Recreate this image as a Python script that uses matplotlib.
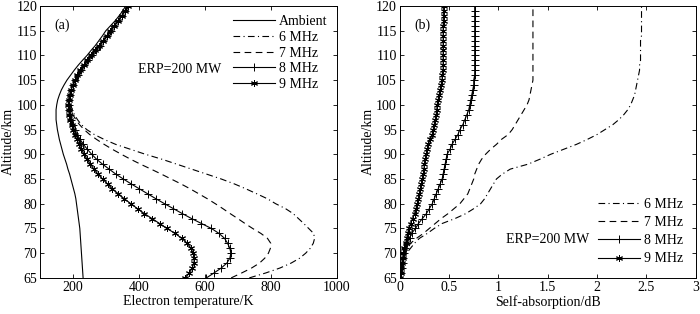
import matplotlib
matplotlib.use('Agg')
import matplotlib.pyplot as plt

plt.rcParams['font.family'] = ['Liberation Serif', 'DejaVu Serif']
plt.rcParams['font.size'] = 10
plt.rcParams['mathtext.fontset'] = 'stix'

# altitude grid (km)
hoehe = list(range(65, 121))

# (a) electron temperature / K
t_ambient = [231, 230, 229, 228, 227, 226, 225, 224, 223, 222,
             221, 219, 217, 215, 213, 211, 209, 206, 202, 198,
             194, 190, 185, 181, 176, 171, 167, 163, 159, 156,
             153, 151, 149, 149, 149, 151, 154, 159, 165, 173,
             182, 193, 204, 216, 229, 243, 255, 268, 279, 290,
             300, 314, 328, 340, 351, 360]
t_6mhz = [735, 785, 828, 862, 888, 906, 920, 929, 933, 930,
          915, 900, 884, 868, 845, 815, 790, 758, 725, 690,
          650, 605, 560, 515, 470, 420, 375, 330, 295, 265,
          242, 226, 214, 205, 198, 194, 193, 194, 197, 202,
          209, 217, 226, 236, 247, 259, 271, 283, 294, 306,
          317, 328, 339, 350, 360, 370]
t_7mhz = [680, 712, 742, 766, 782, 793, 799, 800, 790, 770,
          745, 722, 700, 677, 655, 632, 608, 582, 556, 528,
          498, 468, 437, 405, 375, 347, 320, 295, 272, 251,
          234, 220, 209, 200, 194, 190, 190, 192, 196, 201,
          208, 216, 225, 235, 246, 258, 270, 282, 293, 305,
          316, 327, 338, 349, 359, 369]
t_8mhz = [605, 628, 650, 667, 676, 679, 676, 669, 660, 643,
          620, 590, 560, 532, 505, 478, 452, 427, 402, 377,
          353, 330, 310, 290, 272, 257, 244, 232, 222, 212,
          205, 199, 194, 190, 188, 187, 188, 191, 195, 200,
          207, 215, 224, 234, 245, 257, 269, 281, 292, 304,
          315, 326, 337, 348, 358, 368]
t_9mhz = [540, 553, 562, 567, 568, 565, 558, 547, 530, 510,
          485, 463, 440, 417, 396, 376, 356, 338, 320, 305,
          290, 276, 264, 253, 243, 234, 226, 219, 212, 206,
          201, 196, 192, 189, 187, 186, 187, 190, 194, 199,
          206, 214, 223, 233, 244, 256, 268, 280, 292, 303,
          314, 325, 337, 348, 358, 368]

# (b) self-absorption / dB
a_6mhz = [0.00, 0.01, 0.02, 0.03, 0.05, 0.07, 0.11, 0.15, 0.20, 0.28,
          0.35, 0.43, 0.56, 0.67, 0.75, 0.82, 0.86, 0.89, 0.92, 0.95,
          0.98, 1.04, 1.12, 1.30, 1.42, 1.53, 1.66, 1.79, 1.90, 2.00,
          2.08, 2.16, 2.22, 2.27, 2.31, 2.34, 2.36, 2.38, 2.39, 2.40,
          2.41, 2.42, 2.43, 2.43, 2.44, 2.44, 2.44, 2.44, 2.44, 2.45,
          2.45, 2.45, 2.45, 2.45, 2.45, 2.45]
a_7mhz = [0.00, 0.01, 0.02, 0.03, 0.05, 0.06, 0.08, 0.11, 0.17, 0.24,
          0.30, 0.36, 0.42, 0.49, 0.55, 0.61, 0.65, 0.69, 0.71, 0.73,
          0.75, 0.76, 0.78, 0.80, 0.83, 0.87, 0.92, 0.98, 1.03, 1.10,
          1.14, 1.17, 1.20, 1.23, 1.26, 1.29, 1.31, 1.32, 1.33, 1.34,
          1.35, 1.35, 1.35, 1.35, 1.35, 1.35, 1.35, 1.35, 1.35, 1.35,
          1.35, 1.35, 1.35, 1.35, 1.35, 1.35]
a_8mhz = [0.00, 0.01, 0.02, 0.03, 0.035, 0.04, 0.05, 0.07, 0.10, 0.12,
          0.16, 0.19, 0.23, 0.27, 0.30, 0.33, 0.35, 0.37, 0.39, 0.41,
          0.43, 0.44, 0.45, 0.46, 0.47, 0.48, 0.51, 0.53, 0.56, 0.59,
          0.61, 0.64, 0.66, 0.68, 0.70, 0.71, 0.72, 0.73, 0.74, 0.75,
          0.75, 0.76, 0.76, 0.76, 0.76, 0.76, 0.76, 0.76, 0.76, 0.76,
          0.76, 0.76, 0.76, 0.76, 0.76, 0.76]
a_9mhz = [0.00, 0.01, 0.015, 0.02, 0.03, 0.035, 0.045, 0.06, 0.07, 0.08,
          0.095, 0.11, 0.13, 0.15, 0.165, 0.18, 0.19, 0.20, 0.21, 0.22,
          0.23, 0.24, 0.245, 0.25, 0.26, 0.27, 0.28, 0.29, 0.31, 0.33,
          0.34, 0.35, 0.36, 0.37, 0.375, 0.38, 0.39, 0.40, 0.41, 0.42,
          0.43, 0.43, 0.44, 0.44, 0.44, 0.44, 0.44, 0.44, 0.44, 0.44,
          0.44, 0.44, 0.445, 0.445, 0.445, 0.445]

stern = (6, 2, 0)
lw = 0.8
strich = (0, (6, 4))
strichpunkt = (0, (6, 3, 1, 3))

fig = plt.figure(figsize=(7.0, 3.14), dpi=100)
ax1 = fig.add_axes([0.057, 0.115, 0.424, 0.866])
ax2 = fig.add_axes([0.571, 0.115, 0.423, 0.866])

# Panel (a)
ax1.plot(t_ambient, hoehe, '-', color='k', lw=lw, label='Ambient')
ax1.plot(t_6mhz, hoehe, linestyle=strichpunkt, color='k', lw=lw, label='6 MHz')
ax1.plot(t_7mhz, hoehe, linestyle=strich, color='k', lw=lw, label='7 MHz')
ax1.plot(t_8mhz, hoehe, '-', color='k', lw=lw, marker='+', ms=6, mew=0.7, label='8 MHz')
ax1.plot(t_9mhz, hoehe, '-', color='k', lw=lw, marker=stern, ms=5, mew=0.7, label='9 MHz')
ax1.set_xlim(100, 1000)
ax1.set_ylim(65, 120)
ax1.set_xticks([200, 400, 600, 800, 1000])
ax1.set_yticks(range(65, 121, 5))
ax1.set_xlabel('Electron temperature/K', labelpad=1)
ax1.set_ylabel('Altitude/km', labelpad=1)
ax1.text(0.05, 0.955, '(a)', transform=ax1.transAxes, va='top')
ax1.text(0.33, 0.765, 'ERP=200 MW', transform=ax1.transAxes, va='center')
ax1.legend(loc='upper right', frameon=False, handlelength=3.0, handletextpad=0.3,
           labelspacing=0.2, borderaxespad=0.25)

# Panel (b)
ax2.plot(a_6mhz, hoehe, linestyle=strichpunkt, color='k', lw=lw, label='6 MHz')
ax2.plot(a_7mhz, hoehe, linestyle=strich, color='k', lw=lw, label='7 MHz')
ax2.plot(a_8mhz, hoehe, '-', color='k', lw=lw, marker='+', ms=6, mew=0.7, label='8 MHz')
ax2.plot(a_9mhz, hoehe, '-', color='k', lw=lw, marker=stern, ms=5, mew=0.7, label='9 MHz')
ax2.set_xlim(0, 3)
ax2.set_ylim(65, 120)
ax2.set_xticks([0, 0.5, 1, 1.5, 2, 2.5, 3])
ax2.set_xticklabels(['0', '0.5', '1', '1.5', '2', '2.5', '3'])
ax2.set_yticks(range(65, 121, 5))
ax2.set_xlabel('Self-absorption/dB', labelpad=1)
ax2.set_ylabel('Altitude/km', labelpad=1)
ax2.text(0.05, 0.955, '(b)', transform=ax2.transAxes, va='top')
ax2.text(0.36, 0.14, 'ERP=200 MW', transform=ax2.transAxes, va='center')
ax2.legend(loc='lower right', frameon=False, handlelength=3.0, handletextpad=0.3,
           labelspacing=0.38, borderaxespad=0.5)

for ax in (ax1, ax2):
    ax.tick_params(direction='in', top=True, right=True, length=3, width=0.6, pad=2)
    for s in ax.spines.values():
        s.set_linewidth(0.7)

fig.savefig('out.png', dpi=100)
